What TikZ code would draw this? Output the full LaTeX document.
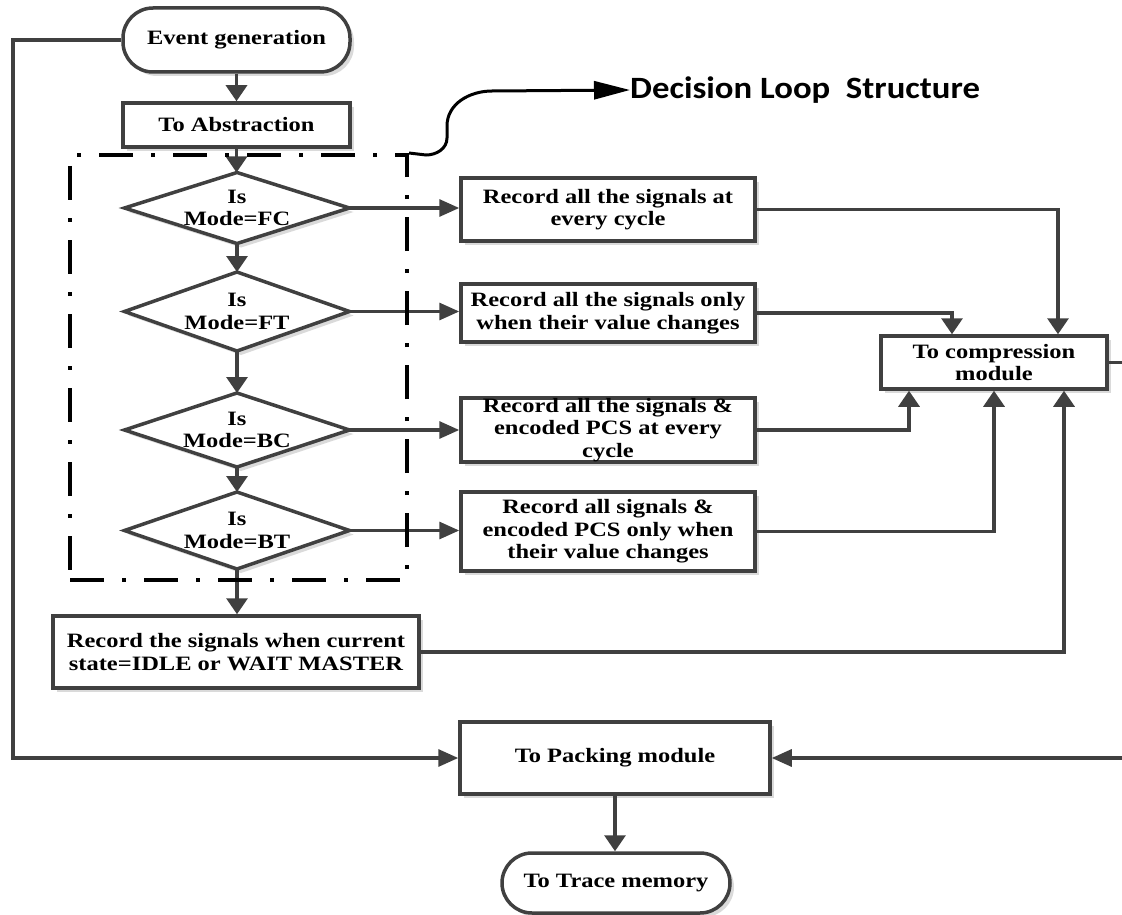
\documentclass[tikz,border=0pt]{standalone}
\usepackage{fontspec}
\setmainfont{Liberation Serif}[FakeStretch=1.2]
\newfontfamily\dlsfont{Carlito}[FakeStretch=1.12]
\usetikzlibrary{arrows.meta,shapes.geometric,shadows,calc}
\definecolor{ln}{HTML}{404040}
\definecolor{shd}{HTML}{DADADA}
\begin{document}
\begin{tikzpicture}[x=1pt,y=-1pt,
  shad/.style={drop shadow={shadow xshift=4pt,shadow yshift=-4pt,fill=shd,opacity=1}},
  base/.style={draw=ln,line width=3.5pt,fill=white,shad,inner sep=0pt,align=center,
               font=\bfseries\fontsize{20.4}{22.5}\selectfont},
  proc/.style={base,rectangle},
  term/.style={base,rectangle,rounded corners=30pt},
  dec/.style={base,diamond,aspect=3,inner sep=-5pt,outer sep=0pt,minimum width=225pt},
  conn/.style={draw=ln,line width=3.2pt},
  harr/.style={-{Triangle[length=20pt,width=17pt]}},
  varr/.style={-{Triangle[length=16pt,width=21pt]}},
  loopbox/.style={draw=black,line width=4pt,dash pattern=on 34pt off 18pt on 4pt off 18pt,inner sep=0pt},
  dlsline/.style={draw=black,line width=3pt,-{Triangle[length=36pt,width=18pt]}}
]
\useasboundingbox (0,0) rectangle (1122,915);

% nodes
\node[term,minimum width=227pt,minimum height=64pt] (ev) at (236.5,40) {Event generation};
\node[proc,minimum width=227pt,minimum height=44pt] (abs) at (236.5,125) {To Abstraction};
\node[dec,minimum height=71pt] (fc) at (237,208) {Is\\Mode=FC};
\node[dec,minimum height=79pt] (ft) at (237,311.5) {Is\\Mode=FT};
\node[dec,minimum height=74pt] (bc) at (237,430) {Is\\Mode=BC};
\node[dec,minimum height=77pt] (bt) at (237,530.5) {Is\\Mode=BT};
\node[proc,minimum width=294pt,minimum height=63pt] (r1) at (608,209.5) {Record all the signals at\\every cycle};
\node[proc,minimum width=294pt,minimum height=58pt] (r2) at (608,313) {Record all the signals only\\when their value changes};
\node[proc,minimum width=294pt,minimum height=64pt] (r3) at (608,430) {Record all the signals \&\\encoded PCS at every\\cycle};
\node[proc,minimum width=294pt,minimum height=79pt] (r4) at (608,531.5) {Record all signals \&\\encoded PCS only when\\their value changes};
\node[proc,minimum width=226pt,minimum height=53pt] (comp) at (994,362.5) {To compression\\module};
\node[proc,minimum width=366pt,minimum height=72pt] (idle) at (236,652) {Record the signals when current\\state=IDLE or WAIT MASTER};
\node[proc,minimum width=310pt,minimum height=72pt] (pack) at (615,758) {To Packing module};
\node[term,minimum width=228pt,minimum height=60pt] (trace) at (616,883) {To Trace memory};

% main flow
\draw[conn,varr] (ev.south) -- (ev.south |- abs.north);
\draw[conn,varr] (abs.south) -- (abs.south |- fc.north);
\draw[conn,varr] (fc.south) -- (ft.north);
\draw[conn,varr] (ft.south) -- (bc.north);
\draw[conn,varr] (bc.south) -- (bt.north);
\draw[conn,varr] (bt.south) -- (bt.south |- idle.north);
\draw[conn,varr] (pack.south) -- (pack.south |- trace.north);

% decisions to records
\draw[conn,harr] (fc.east) -- (fc.east -| r1.west);
\draw[conn,harr] (ft.east) -- (ft.east -| r2.west);
\draw[conn,harr] (bc.east) -- (bc.east -| r3.west);
\draw[conn,harr] (bt.east) -- (bt.east -| r4.west);

% records to compression
\draw[conn,varr] (r1.east) -| ($(comp.north)+(64,0)$);
\draw[conn,varr] (r2.east) -| ($(comp.north)+(-42,0)$);
\draw[conn,varr] (r3.east) -| ($(comp.south)+(-85,0)$);
\draw[conn,varr] (r4.east) -| (comp.south);
\draw[conn,varr] (idle.east) -| ($(comp.south)+(70,0)$);

% rails to packing
\coordinate (lrail) at (13,40);
\draw[conn,harr] (ev.west) -- (lrail) |- (pack.west);
\coordinate (rrail) at (1140,362.5);
\draw[conn,harr] (comp.east) -- (rrail) |- (pack.east);

% decision loop box
\node[loopbox,minimum width=337pt,minimum height=425pt] (loop) at (238.5,367.5) {};
\node[anchor=west,inner sep=0pt,font=\dlsfont\bfseries\fontsize{31}{36}\selectfont] (dls) at (630,90) {Decision Loop\ \ Structure};
\draw[dlsline] (loop.north east) -- (426,155) to[out=0,in=-90] (447,138) -- (447,126) to[out=90,in=180] (492,91) -- (dls.west);
\end{tikzpicture}
\end{document}
